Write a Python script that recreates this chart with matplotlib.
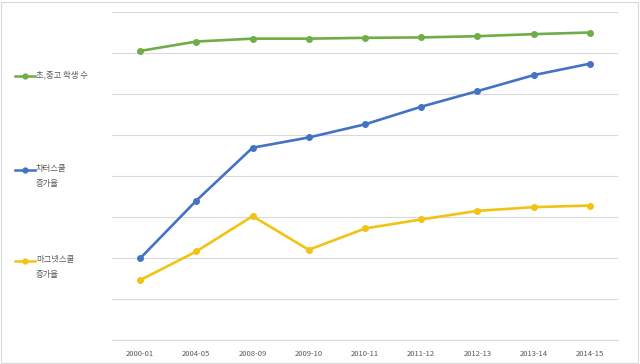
import matplotlib.pyplot as plt
from matplotlib.lines import Line2D
from matplotlib.patches import Rectangle

plt.rcParams['font.family'] = ['Noto Sans CJK KR', 'DejaVu Sans']

years = ['2000-01', '2004-05', '2008-09', '2009-10', '2010-11',
         '2011-12', '2012-13', '2013-14', '2014-15']
students = [7.05, 7.28, 7.35, 7.35, 7.37, 7.38, 7.41, 7.46, 7.50]
charter = [1.99, 3.40, 4.69, 4.94, 5.26, 5.69, 6.07, 6.46, 6.74]
magnet = [1.46, 2.16, 3.02, 2.20, 2.72, 2.94, 3.15, 3.24, 3.28]

names = ['초,중고 학생 수', '차터스쿨\n증가율', '마그넷스쿨\n증가율']
colors = ['#70ad47', '#4472c4', '#f2c314']

fig = plt.figure(figsize=(6.4, 3.64), dpi=100)
ax = fig.add_axes([112 / 640, 1 - 340 / 364, 506 / 640, 328 / 364])

x = list(range(len(years)))
for vals, c in zip([students, charter, magnet], colors):
    ax.plot(x, vals, color=c, lw=1.9, marker='o', ms=4, zorder=3)

ax.set_xlim(-0.5, len(years) - 0.5)
ax.set_ylim(0, 8)
ax.set_yticks(range(0, 9))
ax.set_yticklabels([])
ax.tick_params(axis='y', length=0)
ax.set_xticks(x)
ax.set_xticklabels(years, fontsize=5.5, color='#595959')
ax.tick_params(axis='x', length=0, pad=7)
ax.grid(axis='y', color='#d9d9d9', lw=0.8)
for s in ['top', 'right', 'left']:
    ax.spines[s].set_visible(False)
ax.spines['bottom'].set_color('#d9d9d9')

# legend on the left
leg_y = [76, 170, 261]
for name, c, py in zip(names, colors, leg_y):
    yf = 1 - py / 364
    fig.add_artist(Line2D([15 / 640, 35 / 640], [yf, yf], color=c, lw=1.8,
                          transform=fig.transFigure))
    fig.add_artist(Line2D([25 / 640], [yf], color=c, marker='o', ms=3.5,
                          transform=fig.transFigure))
    fig.text(36 / 640, yf + 6 / 364, name, fontsize=6, color='#595959',
             va='top', ha='left', linespacing=1.9, transform=fig.transFigure)

fig.add_artist(Rectangle((1 / 640, 1 / 364), 637 / 640, 361 / 364, fill=False,
                         edgecolor='#d9d9d9', lw=0.8, transform=fig.transFigure))

fig.savefig('out.png', dpi=100)
